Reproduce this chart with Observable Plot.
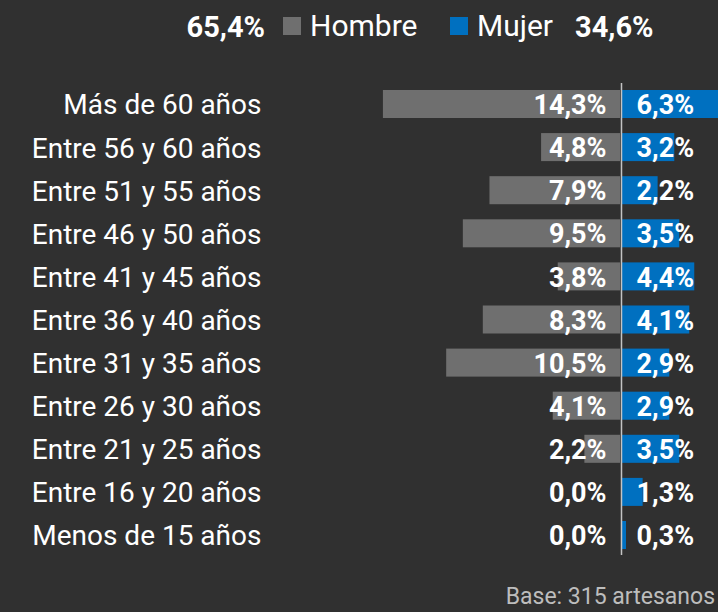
<!DOCTYPE html>
<html>
<head>
<meta charset="utf-8">
<script src="https://cdn.jsdelivr.net/npm/d3@7"></script>
<script src="https://cdn.jsdelivr.net/npm/@observablehq/plot@0.6"></script>
<style>
  html, body { margin: 0; padding: 0; background: #303030; overflow: hidden; }
  #wrap { position: relative; width: 718px; height: 612px; background: #303030; font-family: Roboto, "Noto Sans", sans-serif; color: #fff; overflow: hidden; }
  #legend { position: relative; height: 64px; }
  #legend span { position: absolute; top: 13px; font-size: 29px; line-height: 28px; white-space: nowrap; }
  #legend .n { font-size: 30px; top: 12px; }
  #legend .sw { width: 18px; height: 18px; top: 17px; }
  #legend .b { font-weight: bold; }
  #chart svg { display: block; }
  #caption { position: absolute; right: 3px; top: 587px; font-size: 23px; line-height: 20px; color: #bdbdbd; white-space: nowrap; }
</style>
</head>
<body>
<div id="wrap">
  <div id="legend"></div>
  <div id="chart"></div>
  <div id="caption"></div>
</div>
<script>
const categories = ["Más de 60 años","Entre 56 y 60 años","Entre 51 y 55 años","Entre 46 y 50 años","Entre 41 y 45 años","Entre 36 y 40 años","Entre 31 y 35 años","Entre 26 y 30 años","Entre 21 y 25 años","Entre 16 y 20 años","Menos de 15 años"];
const hombre = [14.3, 4.8, 7.9, 9.5, 3.8, 8.3, 10.5, 4.1, 2.2, 0.0, 0.0];
const mujer = [6.3, 3.2, 2.2, 3.5, 4.4, 4.1, 2.9, 2.9, 3.5, 1.3, 0.3];
const seriesNames = ["Hombre", "Mujer"];
const seriesTotals = [65.4, 34.6];
const seriesColors = ["#6f6f6f", "#0070c0"];
const captionText = "Base: 315 artesanos";

const fmt = v => v.toFixed(1).replace(".", ",") + "%";
const rows = categories.map((c, i) => ({cat: c, hombre: hombre[i], mujer: mujer[i]}));

// legend
const legend = document.getElementById("legend");
const items = [
  {html: fmt(seriesTotals[0]), cls: "b", right: 718 - 265},
  {sw: seriesColors[0], left: 283},
  {html: seriesNames[0], cls: "n", left: 310},
  {sw: seriesColors[1], left: 450},
  {html: seriesNames[1], cls: "n", left: 477},
  {html: fmt(seriesTotals[1]), cls: "b", left: 575}
];
for (const it of items) {
  const s = document.createElement("span");
  if (it.sw) { s.className = "sw"; s.style.background = it.sw; }
  else { s.textContent = it.html; if (it.cls) s.className = it.cls; }
  if (it.left != null) s.style.left = it.left + "px";
  if (it.right != null) s.style.right = it.right + "px";
  legend.appendChild(s);
}
document.getElementById("caption").textContent = captionText;

const k = 16.65, x0 = 621;
const chart = Plot.plot({
  width: 718,
  height: 500,
  marginTop: 19,
  marginBottom: 9,
  marginLeft: 270,
  marginRight: 0,
  style: {background: "transparent", color: "#ffffff", fontFamily: "Roboto, 'Noto Sans', sans-serif"},
  x: {domain: [-16, 8], range: [x0 - 16 * k, x0 + 8 * k], axis: null},
  y: {domain: categories, range: [18.45, 492.55], paddingInner: 0.35, paddingOuter: 0.175, round: false, axis: null},
  marks: [
    Plot.barX(rows, {y: "cat", x1: 0, x2: d => -d.hombre, fill: seriesColors[0], insetRight: 1}),
    Plot.barX(rows, {y: "cat", x1: 0, x2: d => d.mujer, fill: seriesColors[1], insetLeft: 1}),
    Plot.ruleX([0], {stroke: "#c4c4c4", strokeWidth: 1.5}),
    Plot.text(rows, {y: "cat", x: 0, text: d => fmt(d.hombre), dx: -15, dy: 1, textAnchor: "end", fill: "#ffffff", fontWeight: "bold", fontSize: 27}),
    Plot.text(rows, {y: "cat", x: 0, text: d => fmt(d.mujer), dx: 15, dy: 1, textAnchor: "start", fill: "#ffffff", fontWeight: "bold", fontSize: 27}),
    Plot.axisY({anchor: "left", tickSize: 0, tickPadding: 9, dy: 1, fontSize: 28, fill: "#ffffff", label: null})
  ]
});
document.getElementById("chart").appendChild(chart);
</script>
</body>
</html>
